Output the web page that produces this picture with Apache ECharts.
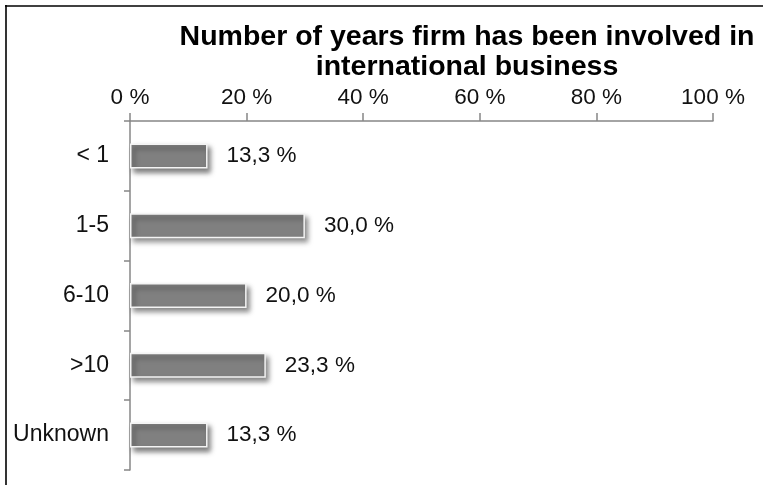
<!DOCTYPE html>
<html>
<head>
<meta charset="utf-8">
<script src="https://cdn.jsdelivr.net/npm/echarts@6/dist/echarts.min.js"></script>
<style>
  html, body { margin: 0; padding: 0; background: #fff; }
  #chart { width: 763px; height: 485px; }
</style>
</head>
<body>
<div id="chart"></div>
<script>
// Years of international involvement, share of firms (%)
const categories = ['< 1', '1-5', '6-10', '>10', 'Unknown'];
const shares = [13.3, 30.0, 20.0, 23.3, 13.3];
const titleLines = ['Number of years firm has been involved in', 'international business'];
const axisMax = 100;
const axisStep = 20;

const FONT = '"Liberation Sans", Arial, sans-serif';
const fmtPct = v => v.toFixed(1).replace('.', ',') + ' %';

const chart = echarts.init(document.getElementById('chart'), null, { renderer: 'canvas' });

chart.setOption({
  backgroundColor: '#ffffff',
  animation: false,
  grid: { left: 130, right: 50, top: 121, bottom: 15 },
  graphic: [
    // frame: top and left edges
    { type: 'line', shape: { x1: 5, y1: 6, x2: 763, y2: 6 }, style: { stroke: '#000', lineWidth: 1.6 } },
    { type: 'line', shape: { x1: 6, y1: 5, x2: 6, y2: 485 }, style: { stroke: '#000', lineWidth: 1.6 } },
    {
      type: 'text', x: 467, y: 22,
      style: {
        text: titleLines.join('\n'),
        font: 'bold 28.5px ' + FONT,
        fill: '#000',
        align: 'center',
        verticalAlign: 'top',
        lineHeight: 30
      }
    }
  ],
  xAxis: {
    type: 'value',
    position: 'top',
    min: 0,
    max: axisMax,
    interval: axisStep,
    splitLine: { show: false },
    axisLine: { show: true, lineStyle: { color: '#878787', width: 1.5 } },
    axisTick: { show: true, length: 8, lineStyle: { color: '#878787', width: 1.5 } },
    axisLabel: {
      margin: 12,
      color: '#111',
      fontFamily: FONT,
      fontSize: 22.5,
      formatter: v => v + ' %'
    }
  },
  yAxis: {
    type: 'category',
    data: categories,
    inverse: true,
    axisLine: { show: true, lineStyle: { color: '#878787', width: 1.5 } },
    axisTick: { show: true, length: 6, alignWithLabel: false, lineStyle: { color: '#878787', width: 1.5 } },
    axisLabel: {
      margin: 21,
      color: '#111',
      fontFamily: FONT,
      fontSize: 23
    }
  },
  series: [{
    type: 'bar',
    data: shares,
    barWidth: 25,
    itemStyle: {
      color: '#808080',
      borderColor: '#f4f4f4',
      borderWidth: 1.5,
      shadowColor: 'rgba(0,0,0,0.5)',
      shadowBlur: 5,
      shadowOffsetX: 3,
      shadowOffsetY: 4
    },
    label: {
      show: true,
      position: 'right',
      distance: 19,
      color: '#111',
      fontFamily: FONT,
      fontSize: 22.5,
      formatter: p => fmtPct(p.value)
    }
  }]
});
</script>
</body>
</html>
